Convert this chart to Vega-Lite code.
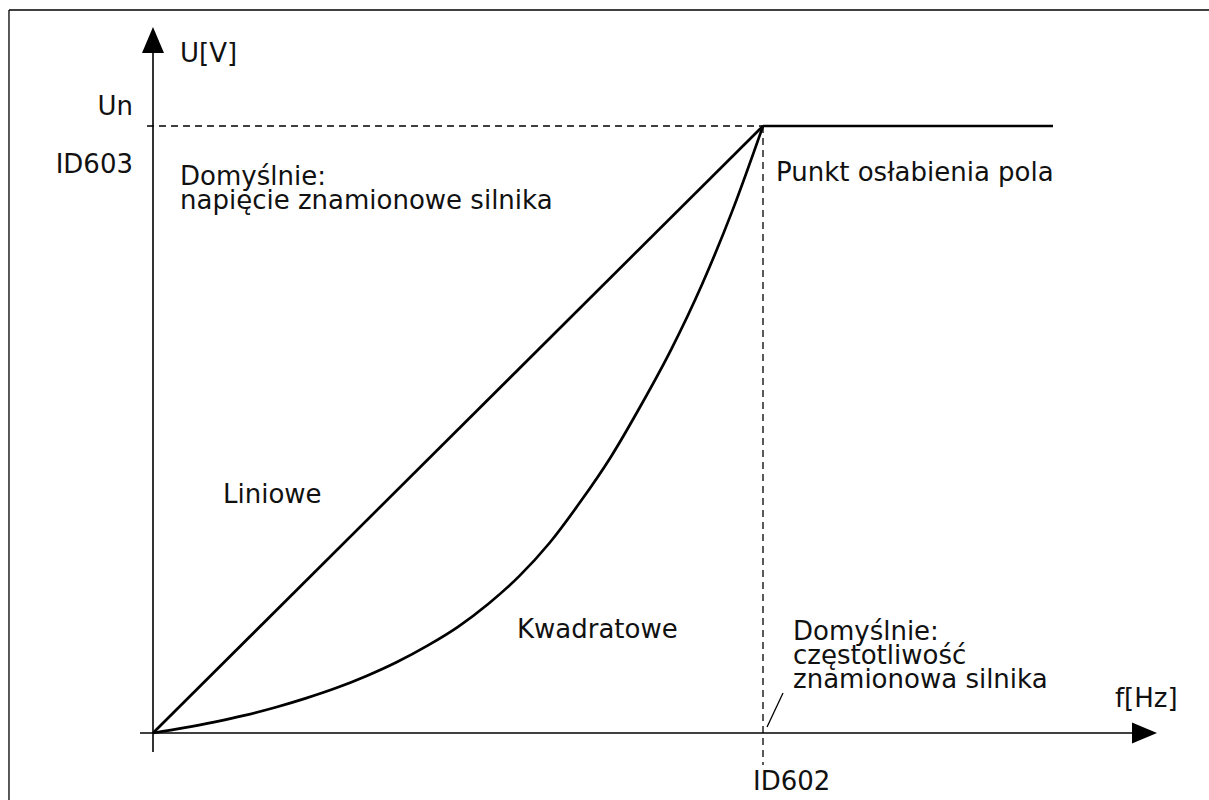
{
  "$schema": "https://vega.github.io/schema/vega-lite/v6.json",
  "width": 1209,
  "height": 800,
  "padding": 0,
  "autosize": {"type": "none"},
  "background": "white",
  "config": {"view": {"stroke": null}},
  "datasets": {
    "segments": [
      {"kind": "frame", "x": -23.61, "y": 119.11, "x2": 173.2, "y2": 119.11},
      {"kind": "frame", "x": -23.61, "y": 119.11, "x2": -23.61, "y2": -11.1},
      {"kind": "axis", "x": 0, "y": -3.13, "x2": 0, "y2": 114.17},
      {"kind": "axis", "x": -2.13, "y": 0, "x2": 162.5, "y2": 0},
      {"kind": "dash", "x": -0.98, "y": 100, "x2": 100, "y2": 100},
      {"kind": "dash", "x": 100, "y": 100, "x2": 100, "y2": -5.27},
      {"kind": "thick", "x": 0, "y": 0, "x2": 100, "y2": 100},
      {"kind": "thick", "x": 100, "y": 100, "x2": 147.54, "y2": 100},
      {"kind": "thin", "x": 100.66, "y": 0.99, "x2": 103.28, "y2": 6.59}
    ],
    "curve": [
      {"x": 0, "y": 0},
      {"x": 5, "y": 0.85},
      {"x": 10, "y": 1.8},
      {"x": 15, "y": 2.9},
      {"x": 20, "y": 4.2},
      {"x": 25, "y": 5.7},
      {"x": 30, "y": 7.4},
      {"x": 35, "y": 9.4},
      {"x": 40, "y": 11.7},
      {"x": 45, "y": 14.4},
      {"x": 50, "y": 17.5},
      {"x": 55, "y": 21.3},
      {"x": 60, "y": 25.8},
      {"x": 65, "y": 31.3},
      {"x": 70, "y": 38.0},
      {"x": 75, "y": 45.4},
      {"x": 80, "y": 54.0},
      {"x": 85, "y": 63.3},
      {"x": 90, "y": 73.9},
      {"x": 95, "y": 86.1},
      {"x": 100, "y": 100}
    ],
    "arrows": [
      {"dir": "up", "x": 0, "y": 114.17},
      {"dir": "right", "x": 162.54, "y": 0}
    ],
    "labels": [
      {"text": "U[V]", "x": 4.43, "y": 110.54, "side": "left"},
      {"text": "Un", "x": -3.28, "y": 101.81, "side": "right"},
      {"text": "ID603", "x": -3.28, "y": 92.26, "side": "right"},
      {"text": "Domyślnie:", "x": 4.43, "y": 90.28, "side": "left"},
      {"text": "napięcie znamionowe silnika", "x": 4.43, "y": 86.33, "side": "left"},
      {"text": "Punkt osłabienia pola", "x": 102.13, "y": 90.94, "side": "left"},
      {"text": "Liniowe", "x": 11.48, "y": 37.89, "side": "left"},
      {"text": "Kwadratowe", "x": 59.67, "y": 15.65, "side": "left"},
      {"text": "Domyślnie:", "x": 104.92, "y": 15.32, "side": "left"},
      {"text": "częstotliwość", "x": 104.92, "y": 11.37, "side": "left"},
      {"text": "znamionowa silnika", "x": 104.92, "y": 7.41, "side": "left"},
      {"text": "f[Hz]", "x": 157.7, "y": 4.28, "side": "left"},
      {"text": "ID602", "x": 98.36, "y": -9.39, "side": "left"}
    ]
  },
  "encoding": {
    "x": {"field": "x", "type": "quantitative", "axis": null, "scale": {"domain": [-25.082, 173.115], "nice": false, "zero": false}},
    "y": {"field": "y", "type": "quantitative", "axis": null, "scale": {"domain": [-11.038, 120.758], "nice": false, "zero": false}}
  },
  "layer": [
    {
      "data": {"name": "segments"},
      "transform": [{"filter": "datum.kind === 'frame'"}],
      "mark": {"type": "rule", "color": "#000000", "strokeWidth": 1.3},
      "encoding": {"x2": {"field": "x2"}, "y2": {"field": "y2"}}
    },
    {
      "data": {"name": "segments"},
      "transform": [{"filter": "datum.kind === 'axis'"}],
      "mark": {"type": "rule", "color": "#000000", "strokeWidth": 1.6},
      "encoding": {"x2": {"field": "x2"}, "y2": {"field": "y2"}}
    },
    {
      "data": {"name": "segments"},
      "transform": [{"filter": "datum.kind === 'dash'"}],
      "mark": {"type": "rule", "color": "#000000", "strokeWidth": 1.3, "strokeDash": [7, 5]},
      "encoding": {"x2": {"field": "x2"}, "y2": {"field": "y2"}}
    },
    {
      "data": {"name": "segments"},
      "transform": [{"filter": "datum.kind === 'thick'"}],
      "mark": {"type": "rule", "color": "#000000", "strokeWidth": 2.7},
      "encoding": {"x2": {"field": "x2"}, "y2": {"field": "y2"}}
    },
    {
      "data": {"name": "segments"},
      "transform": [{"filter": "datum.kind === 'thin'"}],
      "mark": {"type": "rule", "color": "#000000", "strokeWidth": 1.3},
      "encoding": {"x2": {"field": "x2"}, "y2": {"field": "y2"}}
    },
    {
      "data": {"name": "curve"},
      "mark": {"type": "line", "color": "#000000", "strokeWidth": 2.7, "interpolate": "monotone"},
      "encoding": {}
    },
    {
      "data": {"name": "arrows"},
      "transform": [{"filter": "datum.dir === 'up'"}],
      "mark": {"type": "point", "filled": true, "color": "#000000", "opacity": 1, "size": 676, "shape": "M0,-1L0.846,1L-0.846,1Z"}
    },
    {
      "data": {"name": "arrows"},
      "transform": [{"filter": "datum.dir === 'right'"}],
      "mark": {"type": "point", "filled": true, "color": "#000000", "opacity": 1, "size": 625, "shape": "M1,0L-1,0.84L-1,-0.84Z"}
    },
    {
      "data": {"name": "labels"},
      "transform": [{"filter": "datum.side === 'left'"}],
      "mark": {"type": "text", "align": "left", "baseline": "alphabetic", "font": "DejaVu Sans", "fontSize": 26, "color": "#111111"},
      "encoding": {"text": {"field": "text"}}
    },
    {
      "data": {"name": "labels"},
      "transform": [{"filter": "datum.side === 'right'"}],
      "mark": {"type": "text", "align": "right", "baseline": "alphabetic", "font": "DejaVu Sans", "fontSize": 26, "color": "#111111"},
      "encoding": {"text": {"field": "text"}}
    }
  ]
}
